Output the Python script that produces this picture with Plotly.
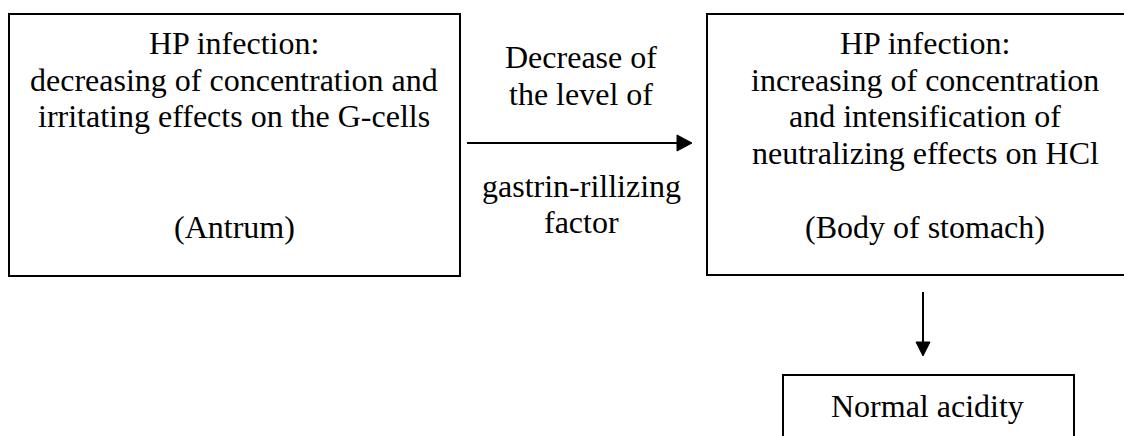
import plotly.graph_objects as go

# ---- diagram content ----
left_lines = ["HP infection:", "decreasing of concentration and",
              "irritating effects on the G-cells"]
left_footer = "(Antrum)"
mid_top = ["Decrease of", "the level of"]
mid_bottom = ["gastrin-rillizing", "factor"]
right_lines = ["HP infection:", "increasing of concentration",
               "and intensification of", "neutralizing effects on HCl"]
right_footer = "(Body of stomach)"
result_text = "Normal acidity"

W, H = 1132, 436
OFF = 8  # page body margin
FONT = dict(family="Liberation Serif, Times New Roman, serif", size=32, color="black")

fig = go.Figure()
fig.add_trace(go.Scatter(x=[0, W], y=[0, H], mode="markers",
                         marker=dict(opacity=0), hoverinfo="skip", showlegend=False))

line_style = dict(color="black", width=2)
shapes = [
    dict(type="rect", x0=9, x1=460, y0=14, y1=276, line=line_style),
    dict(type="rect", x0=707, x1=1150, y0=14, y1=275, line=line_style),
    dict(type="rect", x0=783, x1=1074, y0=375, y1=470, line=line_style),
    # horizontal arrow
    dict(type="line", x0=467, x1=680, y0=143, y1=143, line=line_style),
    dict(type="path", path="M 677 135 L 692 143 L 677 151 Z",
         fillcolor="black", line=dict(color="black", width=1)),
    # vertical arrow
    dict(type="line", x0=923, x1=923, y0=292, y1=345, line=line_style),
    dict(type="path", path="M 916 342 L 923 356 L 930 342 Z",
         fillcolor="black", line=dict(color="black", width=1)),
]
for s in shapes:
    s.update(xref="x", yref="y", layer="above")

annotations = []
def add(text, x, baseline):
    annotations.append(dict(text=text, x=x, y=baseline - 11, xref="x", yref="y",
                            showarrow=False, xanchor="center", yanchor="middle",
                            font=FONT))

for i, t in enumerate(left_lines):
    add(t, 234, 54 + 36.5 * i)
add(left_footer, 234, 238)
for i, t in enumerate(mid_top):
    add(t, 581, 68 + 37 * i)
for i, t in enumerate(mid_bottom):
    add(t, 581, 197 + 36 * i)
for i, t in enumerate(right_lines):
    add(t, 925, 54 + 36.5 * i)
add(right_footer, 925, 238)
add(result_text, 927, 417)

fig.update_layout(
    width=W, height=H, margin=dict(l=0, r=0, t=0, b=0),
    paper_bgcolor="white", plot_bgcolor="white",
    xaxis=dict(range=[OFF, W + OFF], visible=False, fixedrange=True),
    yaxis=dict(range=[H + OFF, OFF], visible=False, fixedrange=True),
    shapes=shapes, annotations=annotations, showlegend=False,
)
fig.write_html("out.html")
